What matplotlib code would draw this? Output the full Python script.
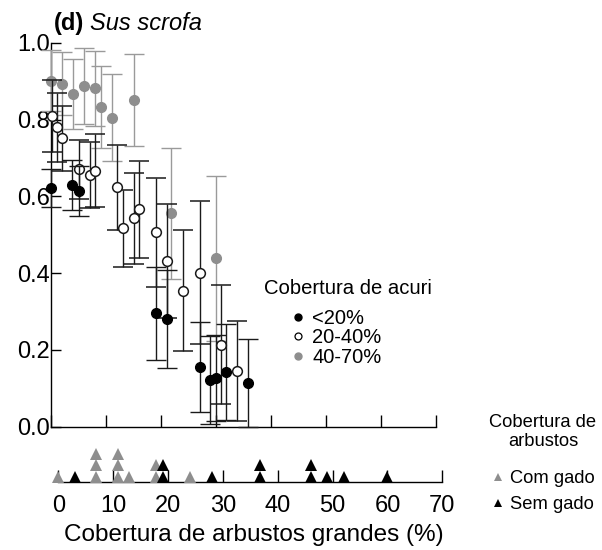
import numpy as np
import matplotlib
matplotlib.use('Agg')
import matplotlib.pyplot as plt
from matplotlib.lines import Line2D

plt.rcParams['font.family'] = ['Liberation Sans', 'DejaVu Sans']

# cobertura de acuri < 20%
x_low = [0, 3.9, 5.1, 19.0, 21.0, 27.0, 28.9, 30.0, 31.9, 35.9]
y_low = [0.621, 0.629, 0.614, 0.295, 0.280, 0.155, 0.122, 0.126, 0.143, 0.113]
e_low = [0.05, 0.065, 0.066, 0.12, 0.128, 0.117, 0.114, 0.112, 0.125, 0.115]

# cobertura de acuri 20-40%
x_mid = [0.1, 1.15, 2.05, 5.1, 7.0, 8.0, 11.95, 13.0, 15.0, 16.05, 19.0, 21.0, 23.95, 27.0, 30.9, 33.9]
y_mid = [0.809, 0.780, 0.751, 0.670, 0.655, 0.667, 0.623, 0.517, 0.543, 0.566,
         0.506, 0.432, 0.354, 0.401, 0.214, 0.146]
e_mid = [0.093, 0.09, 0.085, 0.076, 0.086, 0.095, 0.11, 0.10, 0.118, 0.127,
         0.142, 0.149, 0.157, 0.186, 0.154, 0.13]

# cobertura de acuri 40-70%
x_high = [0, 2.05, 4.05, 6.05, 8.0, 9.05, 11.05, 15.0, 21.9, 30.0]
y_high = [0.901, 0.893, 0.866, 0.887, 0.881, 0.833, 0.805, 0.851, 0.556, 0.4385]
e_high = [0.079, 0.082, 0.091, 0.1, 0.097, 0.107, 0.113, 0.12, 0.171, 0.215]

# cobertura de arbustos grandes por parcela (posicao, numero de parcelas)
com_gado_x = [0, 6.8, 10.8, 12.9, 17.9, 24.0]
com_gado_n = [1, 3, 3, 1, 2, 1]
sem_gado_x = [3.0, 19.1, 28.1, 36.8, 46.1, 48.9, 52.1, 60.0]
sem_gado_n = [1, 2, 1, 2, 2, 1, 1, 1]

acuri_labels = ['<20%', '20-40%', '40-70%']
gado_labels = ['Com gado', 'Sem gado']
x_ticks = [0, 10, 20, 30, 40, 50, 60, 70]
y_ticks = [0.0, 0.2, 0.4, 0.6, 0.8, 1.0]

GRAY = '#8e8e8e'
GRAY_BAR = '#9a9a9a'
DARK = '#1a1a1a'

W, H = 602, 550
fig = plt.figure(figsize=(W / 100, H / 100), dpi=100)

def px(x0, y0, x1, y1):
    return [x0 / W, 1 - y1 / H, (x1 - x0) / W, (y1 - y0) / H]

ax = fig.add_axes(px(51, 42.7, 436, 426.7))
ax.set_xlim(0, 70)
ax.set_ylim(0, 1)

ax.errorbar(x_high, y_high, yerr=e_high, fmt='o', color=GRAY, ecolor=GRAY_BAR,
            ms=7, elinewidth=1, capsize=7, capthick=1, clip_on=False, zorder=3)
ax.errorbar(x_mid, y_mid, yerr=e_mid, fmt='o', mfc='white', mec=DARK, mew=1.1,
            ecolor=DARK, ms=7, elinewidth=1, capsize=7, capthick=1, clip_on=False, zorder=4)
ax.errorbar(x_low, y_low, yerr=e_low, fmt='o', color='black', ecolor=DARK,
            ms=7, elinewidth=1, capsize=7, capthick=1, clip_on=False, zorder=5)

for s in ['top', 'right']:
    ax.spines[s].set_visible(False)
for s in ['left', 'bottom']:
    ax.spines[s].set_linewidth(1.0)
ax.set_xticks(x_ticks)
ax.set_xticklabels([])
ax.set_yticks(y_ticks)
ax.set_yticklabels(['%.1f' % v for v in y_ticks])
ax.tick_params(axis='y', direction='in', length=7.2, width=1, labelsize=17, pad=0.5)
ax.tick_params(axis='x', direction='in', length=8.6, width=1)

# faixa inferior com a distribuicao das parcelas
ax2 = fig.add_axes(px(58.3, 442, 442.3, 482))
ax2.set_xlim(0, 70)
ax2.set_ylim(-0.46, 3.0)
for s in ['top', 'right', 'left']:
    ax2.spines[s].set_visible(False)
ax2.spines['bottom'].set_linewidth(1.0)
ax2.set_yticks([])
ax2.set_xticks(x_ticks)
ax2.set_xticklabels([str(v) for v in x_ticks])
ax2.tick_params(axis='x', direction='in', length=8.6, width=1, labelsize=17, pad=9)
ax2.patch.set_alpha(0)

cg_x = np.repeat(com_gado_x, com_gado_n)
cg_y = np.concatenate([np.arange(n) for n in com_gado_n])
sg_x = np.repeat(sem_gado_x, sem_gado_n)
sg_y = np.concatenate([np.arange(n) for n in sem_gado_n])
ax2.plot(cg_x, cg_y, '^', color=GRAY, ms=9, mew=0, clip_on=False, zorder=3)
ax2.plot(sg_x, sg_y, '^', color='black', ms=9, mew=0, clip_on=False, zorder=4)

fig.text(254 / W, 1 - 535 / H, 'Cobertura de arbustos grandes (%)',
         ha='center', va='center', fontsize=17.5)

# titulo do painel
t1 = fig.text(54 / W, 1 - 30 / H, '(d)', fontsize=17, fontweight='bold', va='baseline')
ax.annotate('Sus scrofa', xy=(1, 0), xycoords=t1, xytext=(4, 0),
            textcoords='offset points', fontsize=17, style='italic',
            ha='left', va='bottom', annotation_clip=False)

# legenda acuri
fig.text(264 / W, 1 - 288 / H, 'Cobertura de acuri', fontsize=14.6,
         ha='left', va='center')
h_acuri = [Line2D([], [], ls='none', marker='o', ms=5, color='black'),
           Line2D([], [], ls='none', marker='o', ms=5, mfc='white', mec='black', mew=0.9),
           Line2D([], [], ls='none', marker='o', ms=5, color=GRAY)]
fig.legend(h_acuri, acuri_labels, loc='upper left',
           bbox_to_anchor=(293 / W, 1 - 309 / H), frameon=False, fontsize=14.5,
           handlelength=0.5, handletextpad=0.45, labelspacing=0.02,
           borderpad=0, borderaxespad=0)

# legenda gado
fig.text(543 / W, 1 - 432 / H, 'Cobertura de\narbustos', fontsize=13.2,
         ha='center', va='center', linespacing=1.1)
h_gado = [Line2D([], [], ls='none', marker='^', ms=6, color=GRAY, mew=0),
          Line2D([], [], ls='none', marker='^', ms=6, color='black', mew=0)]
fig.legend(h_gado, gado_labels, loc='upper left',
           bbox_to_anchor=(492 / W, 1 - 470 / H), frameon=False, fontsize=13.2,
           handlelength=0.6, handletextpad=0.4, labelspacing=0.5,
           borderpad=0, borderaxespad=0)

fig.savefig('out.png', dpi=100)
